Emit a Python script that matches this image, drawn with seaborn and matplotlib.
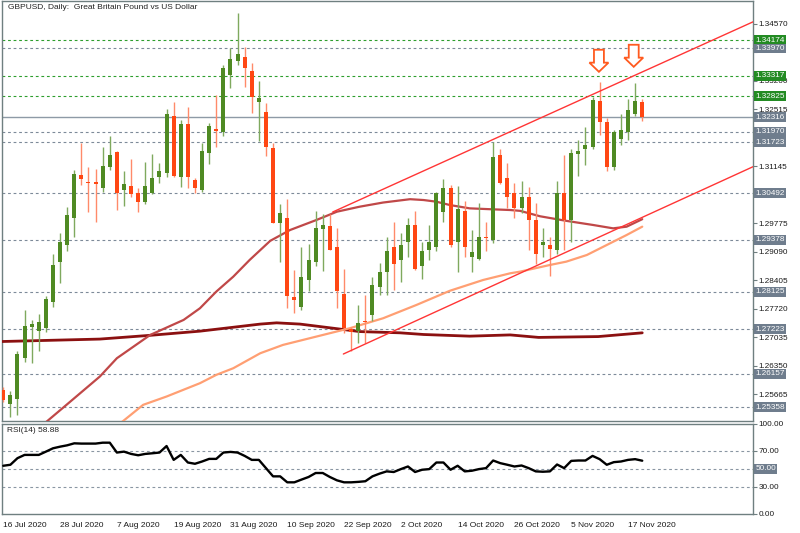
import numpy as np
import pandas as pd
import matplotlib
matplotlib.use("Agg")
import matplotlib.pyplot as plt
import matplotlib.transforms as mtransforms
from matplotlib.patches import Polygon
import seaborn as sns

sns.set_style("white")
plt.rcParams['font.family'] = ['Liberation Sans', 'DejaVu Sans']

# ---------------- data ----------------
dates = pd.bdate_range("2020-07-16", periods=91)
open_ = [1.2577, 1.2544, 1.2556, 1.2653, 1.2727, 1.2719, 1.2725, 1.2789, 1.2883, 1.2925,
         1.2989, 1.3093, 1.3076, 1.3076, 1.3061, 1.3113, 1.3149, 1.3057, 1.3067, 1.3049,
         1.3029, 1.3049, 1.3089, 1.3097, 1.3235, 1.3089, 1.3215, 1.3080, 1.3056, 1.3145,
         1.3204, 1.3197, 1.3333, 1.3368, 1.3377, 1.3344, 1.3269, 1.3244, 1.3157, 1.2979,
         1.2989, 1.2801, 1.2775, 1.2841, 1.2883, 1.2963, 1.2971, 1.2919, 1.2807, 1.2723,
         1.2719, 1.2743, 1.2757, 1.2825, 1.2859, 1.2919, 1.2889, 1.2932, 1.2972, 1.2875,
         1.2913, 1.2919, 1.3005, 1.3063, 1.2932, 1.3007, 1.2897, 1.2891, 1.2945, 1.2937,
         1.3140, 1.3085, 1.3051, 1.3015, 1.3040, 1.2984, 1.2925, 1.2924, 1.2913, 1.3051,
         1.2984, 1.3143, 1.3156, 1.3160, 1.3271, 1.3220, 1.3113, 1.3179, 1.3197, 1.3240,
         1.3268]
high = [1.2585, 1.2575, 1.2670, 1.2769, 1.2745, 1.2759, 1.2803, 1.2903, 1.2953, 1.3016,
        1.3105, 1.3171, 1.3113, 1.3108, 1.3161, 1.3187, 1.3151, 1.3103, 1.3132, 1.3061,
        1.3124, 1.3144, 1.3122, 1.3252, 1.3269, 1.3225, 1.3256, 1.3085, 1.3171, 1.3217,
        1.3285, 1.3357, 1.3397, 1.3483, 1.3401, 1.3361, 1.3319, 1.3265, 1.3169, 1.3023,
        1.3035, 1.2865, 1.2919, 1.2927, 1.3007, 1.2999, 1.2999, 1.2967, 1.2867, 1.2729,
        1.2782, 1.2805, 1.2849, 1.2881, 1.2943, 1.2981, 1.2955, 1.2991, 1.3007, 1.2932,
        1.2972, 1.3053, 1.3083, 1.3070, 1.3066, 1.3031, 1.2962, 1.3027, 1.2980, 1.3172,
        1.3156, 1.3122, 1.3075, 1.3079, 1.3065, 1.3025, 1.2967, 1.2943, 1.3079, 1.3140,
        1.3156, 1.3177, 1.3209, 1.3281, 1.3317, 1.3231, 1.3201, 1.3240, 1.3275, 1.3313,
        1.3275]
low = [1.2548, 1.2513, 1.2517, 1.2645, 1.2642, 1.2671, 1.2717, 1.2777, 1.2834, 1.2911,
       1.2943, 1.3069, 1.3005, 1.2981, 1.3053, 1.3105, 1.3008, 1.3019, 1.3041, 1.3005,
       1.3024, 1.3047, 1.3073, 1.3089, 1.3089, 1.3064, 1.3061, 1.3051, 1.3053, 1.3119,
       1.3161, 1.3187, 1.3301, 1.3357, 1.3305, 1.3241, 1.3176, 1.3139, 1.2977, 1.2883,
       1.2773, 1.2761, 1.2769, 1.2814, 1.2875, 1.2863, 1.2913, 1.2773, 1.2714, 1.2671,
       1.2690, 1.2690, 1.2743, 1.2805, 1.2805, 1.2817, 1.2837, 1.2897, 1.2865, 1.2843,
       1.2889, 1.2911, 1.2981, 1.2921, 1.2861, 1.2897, 1.2859, 1.2889, 1.2911, 1.2929,
       1.3072, 1.3015, 1.2991, 1.3001, 1.2914, 1.2879, 1.2897, 1.2851, 1.2903, 1.2914,
       1.2931, 1.3091, 1.3117, 1.3155, 1.3189, 1.3103, 1.3105, 1.3165, 1.3177, 1.3236,
       1.3224]
close = [1.2553, 1.2564, 1.2663, 1.2730, 1.2735, 1.2741, 1.2795, 1.2877, 1.2931, 1.2997,
         1.3096, 1.3084, 1.3073, 1.3071, 1.3115, 1.3141, 1.3051, 1.3071, 1.3047, 1.3029,
         1.3067, 1.3085, 1.3103, 1.3240, 1.3091, 1.3215, 1.3088, 1.3061, 1.3151, 1.3211,
         1.3200, 1.3351, 1.3371, 1.3384, 1.3351, 1.3281, 1.3279, 1.3160, 1.2979, 1.3001,
         1.2802, 1.2793, 1.2847, 1.2889, 1.2967, 1.2973, 1.2914, 1.2814, 1.2725, 1.2717,
         1.2737, 1.2739, 1.2829, 1.2861, 1.2911, 1.2879, 1.2925, 1.2972, 1.2867, 1.2911,
         1.2932, 1.3051, 1.3063, 1.2925, 1.3011, 1.2921, 1.2907, 1.2943, 1.2941, 1.3136,
         1.3075, 1.3041, 1.3015, 1.3041, 1.2984, 1.2903, 1.2933, 1.2915, 1.3051, 1.2984,
         1.3147, 1.3151, 1.3164, 1.3273, 1.3220, 1.3113, 1.3196, 1.3201, 1.3249, 1.3271,
         1.3232]

rsi = [53.3, 54.4, 61.7, 65.3, 65.3, 65.3, 68.9, 72.6, 74.4, 75.9,
       78.1, 77.8, 77.8, 77.8, 78.8, 78.8, 67.9, 68.9, 66.4, 64.9,
       66.4, 67.1, 67.9, 75.1, 59.8, 65.3, 56.9, 55.5, 58.0, 60.9,
       60.9, 67.9, 68.6, 67.9, 64.2, 59.8, 59.8, 50.7, 41.6, 41.6,
       35.0, 35.0, 38.0, 40.9, 45.3, 45.3, 40.9, 37.2, 35.0, 35.0,
       35.5, 36.2, 41.6, 44.6, 47.1, 46.4, 49.6, 52.5, 46.4, 48.9,
       49.6, 56.9, 56.9, 48.9, 53.3, 47.1, 47.8, 49.6, 50.7, 59.1,
       56.2, 54.4, 52.5, 53.6, 50.7, 47.1, 46.7, 47.1, 54.7, 50.7,
       58.7, 59.1, 59.1, 64.2, 60.6, 54.4, 57.3, 58.0, 59.8, 60.6,
       58.88]

ma50_idx = [5.5, 8.9, 13.6, 16.0, 20.7, 25.4, 27.7, 30.0, 32.4, 34.7, 37.6, 40.4, 44.1,
            47.0, 50.2, 53.5, 57.3, 59.2, 61.0, 62.9, 65.7, 68.5, 71.4, 72.8, 75.6, 79.3,
            83.1, 85.9, 87.8, 90.0]
ma50_val = [1.2492, 1.2541, 1.2609, 1.2653, 1.2709, 1.2745, 1.2773, 1.2813, 1.2849, 1.2889,
            1.2935, 1.2961, 1.2985, 1.3005, 1.3017, 1.3027, 1.3035, 1.3033, 1.3029, 1.3021,
            1.3013, 1.3011, 1.3009, 1.3007, 1.2994, 1.2983, 1.2973, 1.2965, 1.2969, 1.2987]
ma100_idx = [16.0, 19.7, 23.0, 27.7, 30.0, 32.4, 36.2, 39.4, 44.1, 48.8, 53.5, 58.2, 62.9,
             67.6, 71.4, 72.8, 77.0, 79.3, 82.2, 85.0, 87.8, 90.0]
ma100_val = [1.2490, 1.2541, 1.2561, 1.2593, 1.2613, 1.2629, 1.2665, 1.2685, 1.2705, 1.2725,
             1.2749, 1.2781, 1.2815, 1.2841, 1.2857, 1.2861, 1.2877, 1.2885, 1.2901, 1.2925,
             1.2949, 1.2969]
ma200_idx = [-0.5, 13.6, 20.7, 27.7, 36.2, 38.5, 41.8, 46.5, 50.2, 55.9, 59.2, 65.7, 71.4,
             75.4, 83.8, 90.0]
ma200_val = [1.2693, 1.2699, 1.2708, 1.2718, 1.2735, 1.2738, 1.2735, 1.2725, 1.2717, 1.2714,
             1.2710, 1.2706, 1.2709, 1.2703, 1.2705, 1.2714]

green_levels = [1.34174, 1.33317, 1.32825]
grey_levels = [1.33970, 1.31970, 1.31723, 1.30492, 1.29378, 1.28125, 1.27223, 1.26157, 1.25358]
bid_level = 1.32316
price_ticks = [1.34570, 1.33885, 1.33200, 1.32515, 1.31830, 1.31145, 1.30460, 1.29775,
               1.29090, 1.28405, 1.27720, 1.27035, 1.26350, 1.25665]
hidden_ticks = [1.33885, 1.31830, 1.30460]   # labels covered by level boxes

trend_up_x, trend_up_y = [46.4, 105.6], [1.30042, 1.34610]
trend_dn_x, trend_dn_y = [47.9, 105.6], [1.26631, 1.31130]
arrows = [(83.9, 1.3341), (88.8, 1.3353)]   # (bar index, arrow tip price)

date_tick_idx = [0, 8, 16, 24, 32, 40, 48, 56, 64, 72, 80, 88]
date_tick_lbl = ["16 Jul 2020", "28 Jul 2020", "7 Aug 2020", "19 Aug 2020", "31 Aug 2020",
                 "10 Sep 2020", "22 Sep 2020", "2 Oct 2020", "14 Oct 2020", "26 Oct 2020",
                 "5 Nov 2020", "17 Nov 2020"]
rsi_ticks = [100, 70, 30, 0]

# ---------------- figure ----------------
W, H = 800, 533
fig = plt.figure(figsize=(8, 5.33), dpi=100)
ax = fig.add_axes([2 / W, 1 - 421 / H, 751 / W, 420 / H])
rax = fig.add_axes([2 / W, 1 - 514 / H, 751 / W, 90.5 / H])

XMIN, XMAX = -0.18, 105.6
frame_col = "#6f7f80"
fs = 5.9

df = pd.DataFrame({"date": dates, "open": open_, "high": high, "low": low, "close": close,
                   "rsi": rsi})
df["idx"] = np.arange(len(df))
up = df["close"] >= df["open"]

# horizontal levels
for lv in green_levels:
    ax.axhline(lv, color="#2e9e2e", lw=0.8, ls=(0, (2.5, 2.5)), zorder=1)
for lv in grey_levels:
    ax.axhline(lv, color="#7d8a99", lw=0.8, ls=(0, (2.5, 2.5)), zorder=1)
ax.axhline(bid_level, color="#8e9aa6", lw=1.0, zorder=1)

# moving averages
sns.lineplot(x=ma200_idx, y=ma200_val, ax=ax, color="#8b1010", lw=2.0, zorder=3)
sns.lineplot(x=ma50_idx, y=ma50_val, ax=ax, color="#c04848", lw=1.6, zorder=3)
sns.lineplot(x=ma100_idx, y=ma100_val, ax=ax, color="#ff9f73", lw=1.6, zorder=3)

# candles
green_body, red_body = "#4f8a23", "#ff4713"
green_wick, red_wick = "#7fa95e", "#ff8a6a"
ax.vlines(df["idx"], df["low"], df["high"],
          colors=np.where(up, green_wick, red_wick), lw=1.0, zorder=4)
body_lo = np.minimum(df["open"], df["close"])
body_h = np.maximum(np.abs(df["close"] - df["open"]), 0.00008)
ax.bar(df["idx"], body_h, bottom=body_lo, width=0.56,
       color=np.where(up, green_body, red_body), zorder=5, linewidth=0)

# trend channel
ax.plot(trend_up_x, trend_up_y, color="#ff3535", lw=1.0, zorder=6)
ax.plot(trend_dn_x, trend_dn_y, color="#ff3535", lw=1.0, zorder=6)

# arrows
aw_head, aw_shaft = 1.34, 0.70
h_head, h_shaft = 0.0022, 0.0031
for xi, tip in arrows:
    pts = [(xi, tip), (xi - aw_head, tip + h_head), (xi - aw_shaft, tip + h_head),
           (xi - aw_shaft, tip + h_head + h_shaft), (xi + aw_shaft, tip + h_head + h_shaft),
           (xi + aw_shaft, tip + h_head), (xi + aw_head, tip + h_head)]
    ax.add_patch(Polygon(pts, closed=True, facecolor="white", edgecolor="#ff5a1f",
                         lw=1.3, zorder=7))

ax.set_xlim(XMIN, XMAX)
ax.set_ylim(1.25022, 1.35111)
ax.set_xticks([])
ax.yaxis.tick_right()
ax.set_yticks(price_ticks)
ax.set_yticklabels(["" if v in hidden_ticks else f"{v:.5f}" for v in price_ticks])
ax.tick_params(axis="y", length=3, width=0.8, pad=1, labelsize=fs, colors="#1a1a1a",
               direction="out")
ax.tick_params(axis="y", color=frame_col)
ax.set_ylabel("")
ax.set_xlabel("")
for s in ax.spines.values():
    s.set_color(frame_col)
    s.set_linewidth(1.0)

tr = mtransforms.blended_transform_factory(ax.transAxes, ax.transData)
for lv in green_levels:
    ax.text(1.003, lv, f"{lv:.5f}", transform=tr, ha="left", va="center", fontsize=fs,
            color="white", zorder=10, clip_on=False,
            bbox=dict(boxstyle="square,pad=0.18", fc="#238b23", ec="none"))
for lv in grey_levels + [bid_level]:
    ax.text(1.003, lv, f"{lv:.5f}", transform=tr, ha="left", va="center", fontsize=fs,
            color="white", zorder=10, clip_on=False,
            bbox=dict(boxstyle="square,pad=0.18", fc="#6f7d8d", ec="none"))

ax.text(6 / 751, 1 - 3 / 420, "GBPUSD, Daily:  Great Britain Pound vs US Dollar",
        transform=ax.transAxes, ha="left", va="top", fontsize=6.0, color="#222222")

# RSI panel
for lv in (70, 50, 30):
    rax.axhline(lv, color="#8a96a3", lw=0.8, ls=(0, (2.5, 2.5)), zorder=1)
sns.lineplot(data=df, x="idx", y="rsi", ax=rax, color="black", lw=1.7, zorder=3)
rax.set_xlim(XMIN, XMAX)
rax.set_ylim(0, 100)
rax.yaxis.tick_right()
rax.set_yticks(rsi_ticks)
rax.set_yticklabels([f"{v:.2f}" for v in rsi_ticks])
rax.tick_params(axis="y", length=3, width=0.8, pad=1, labelsize=fs, colors="#1a1a1a")
rax.tick_params(axis="y", color=frame_col)
rax.set_xticks(date_tick_idx)
rax.set_xticklabels(date_tick_lbl, ha="left")
rax.tick_params(axis="x", length=4, width=0.8, pad=1.5, labelsize=6.0, colors="#1a1a1a")
rax.tick_params(axis="x", color=frame_col)
rax.set_xlabel("")
rax.set_ylabel("")
for s in rax.spines.values():
    s.set_color(frame_col)
    s.set_linewidth(1.0)
trr = mtransforms.blended_transform_factory(rax.transAxes, rax.transData)
rax.text(1.003, 50, "50.00", transform=trr, ha="left", va="center", fontsize=fs,
         color="white", clip_on=False,
         bbox=dict(boxstyle="square,pad=0.18", fc="#6f7d8d", ec="none"))
rax.text(5 / 751, 1 - 4 / 90.5, f"RSI(14) {rsi[-1]:.2f}", transform=rax.transAxes,
         ha="left", va="top", fontsize=6.0, color="#222222")

fig.savefig("out.png", dpi=100, facecolor="white")
